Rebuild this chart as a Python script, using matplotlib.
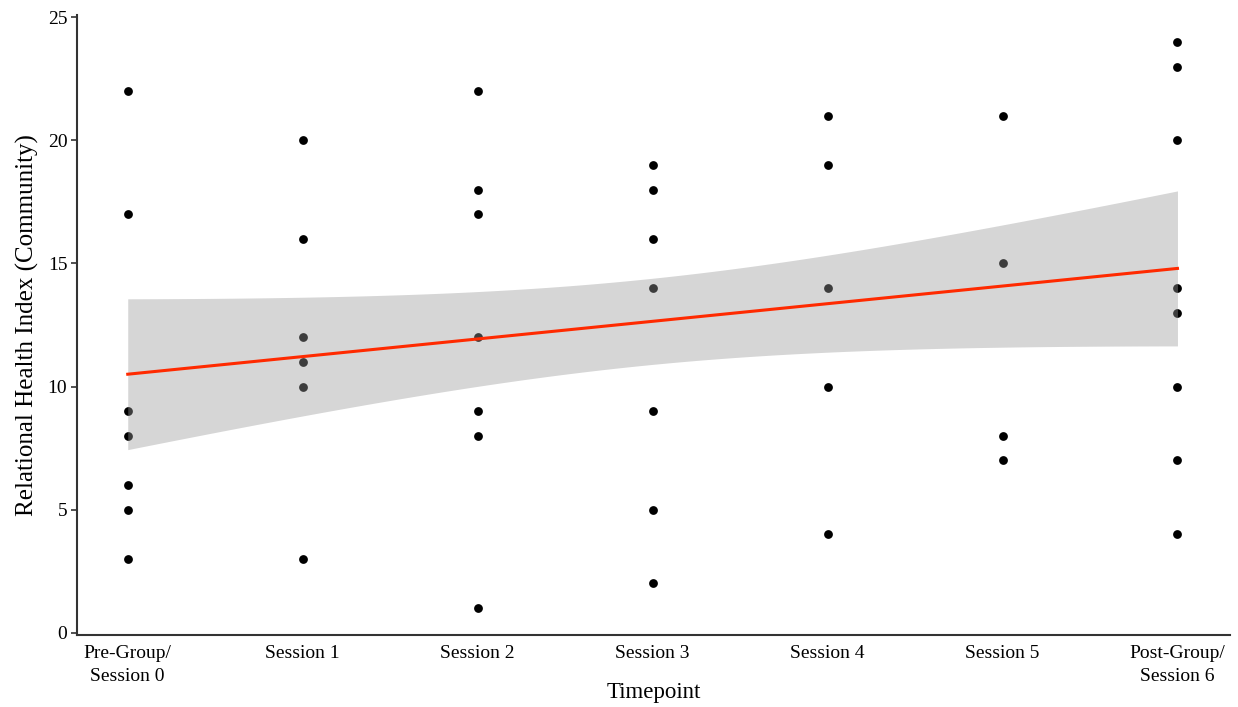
import numpy as np
import matplotlib
matplotlib.use("Agg")
import matplotlib.pyplot as plt

plt.rcParams['font.family'] = ['Liberation Serif', 'DejaVu Serif']

# ---- data ----
timepoints = ["Pre-Group/\nSession 0", "Session 1", "Session 2", "Session 3",
              "Session 4", "Session 5", "Post-Group/\nSession 6"]
scores_t0 = [22, 17, 9, 8, 6, 5, 3]
scores_t1 = [20, 16, 12, 11, 10, 3]
scores_t2 = [22, 18, 17, 12, 9, 8, 1]
scores_t3 = [19, 18, 16, 14, 9, 5, 2]
scores_t4 = [21, 19, 14, 10, 4]
scores_t5 = [21, 15, 8, 7]
scores_t6 = [24, 23, 20, 14, 13, 10, 7, 4]
all_scores = [scores_t0, scores_t1, scores_t2, scores_t3, scores_t4, scores_t5, scores_t6]

# fitted regression line and its confidence band
fit_x = [0, 6]
fit_y = [10.5, 14.8]
band_center_x = 2.94          # x where the band is narrowest
band_min_half = 1.75          # half-width at narrowest point
band_end_half = 3.15          # half-width at the ends

yticks = [0, 5, 10, 15, 20, 25]

# ---- figure ----
fig = plt.figure(figsize=(12.38, 7.07), dpi=100)
ax = fig.add_axes([0.0622, 0.1018, 0.9313, 0.877])

for i, ys in enumerate(all_scores):
    ax.scatter([i] * len(ys), ys, s=40, color='black', zorder=2, linewidths=0)

xs = np.linspace(fit_x[0], fit_x[1], 200)
slope = (fit_y[1] - fit_y[0]) / (fit_x[1] - fit_x[0])
line = fit_y[0] + slope * (xs - fit_x[0])
far = max(band_center_x - fit_x[0], fit_x[1] - band_center_x)
b = (band_end_half ** 2 - band_min_half ** 2) / far ** 2
half = np.sqrt(band_min_half ** 2 + b * (xs - band_center_x) ** 2)
ax.fill_between(xs, line - half, line + half, color='#999999', alpha=0.4,
                linewidth=0, zorder=3)
ax.plot(xs, line, color='#ff2a00', linewidth=2.2, zorder=4)

ax.set_xlim(-0.29, 6.30)
ax.set_ylim(-0.1, 25.1)
ax.set_xticks(range(len(timepoints)))
ax.set_xticklabels(timepoints, fontsize=14, linespacing=1.45)
ax.set_yticks(yticks)
ax.tick_params(axis='y', labelsize=14, length=4, width=1.2, color='#333333', pad=3)
ax.tick_params(axis='x', length=0, pad=7)
ax.set_xlabel("Timepoint", fontsize=16.5)
ax.xaxis.set_label_coords(0.5, -0.076)
ax.set_ylabel("Relational Health Index (Community)", fontsize=18, labelpad=6)

for sp in ['top', 'right']:
    ax.spines[sp].set_visible(False)
for sp in ['left', 'bottom']:
    ax.spines[sp].set_color('#333333')
    ax.spines[sp].set_linewidth(1.5)

fig.savefig("out.png", dpi=100)
